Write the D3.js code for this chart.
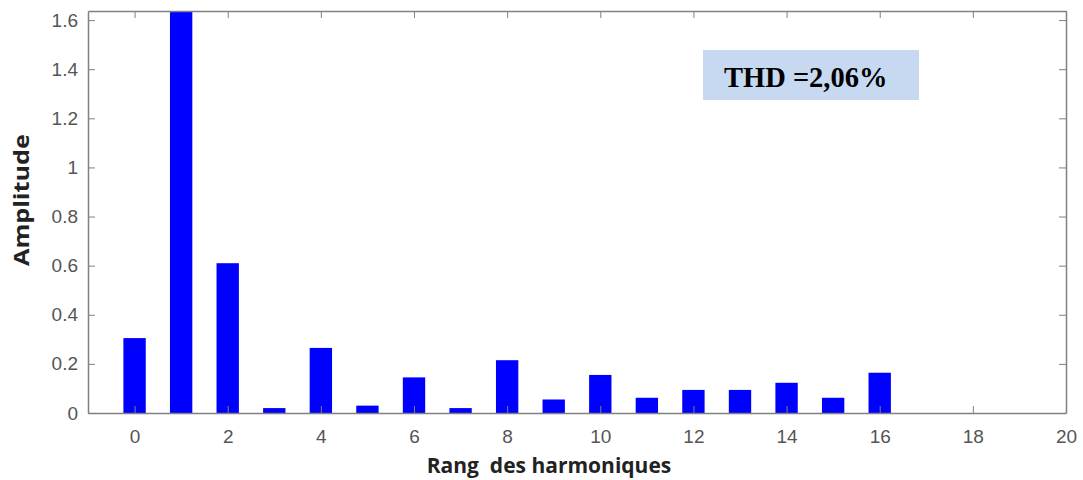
<!DOCTYPE html>
<html>
<head>
    <script src="https://d3js.org/d3.v7.min.js"></script>
    <style>
        body { margin: 0; background: #fff; }
        .tick text { font-family: Arial, "Liberation Sans", sans-serif; font-size: 19px; fill: #555; }
        .tick line { stroke: #808080; }
        .domain { stroke: #808080; }
        .axis-label { font-family: "Open Sans", sans-serif; font-weight: bold; font-size: 21px; fill: #222; white-space: pre; }
    </style>
</head>
<body>
<div id="chart"></div>
<script>
    // harmonic ranks and their amplitudes
    const harmonics = [0, 1, 2, 3, 4, 5, 6, 7, 8, 9, 10, 11, 12, 13, 14, 15, 16];
    const amplitudes = [0.305, 1.70, 0.61, 0.02, 0.265, 0.03, 0.145, 0.02, 0.215, 0.055, 0.155, 0.062, 0.094, 0.094, 0.123, 0.062, 0.164];
    const xTicks = [0, 2, 4, 6, 8, 10, 12, 14, 16, 18, 20];
    const yTicks = [0, 0.2, 0.4, 0.6, 0.8, 1, 1.2, 1.4, 1.6];
    const thdLabel = 'THD =2,06%';

    const width = 1083, height = 480;
    const margin = {top: 11, right: 17, bottom: 67, left: 88};
    const iw = width - margin.left - margin.right;
    const ih = height - margin.top - margin.bottom;

    const svg = d3.select('#chart').append('svg')
        .attr('width', width)
        .attr('height', height);

    const x = d3.scaleLinear().domain([-1, 20]).range([0, iw]);
    const y = d3.scaleLinear().domain([0, 1.637]).range([ih, 0]);
    const barW = x(0.48) - x(0);

    const g = svg.append('g').attr('transform', `translate(${margin.left},${margin.top})`);

    g.append('defs').append('clipPath').attr('id', 'clip')
        .append('rect').attr('width', iw).attr('height', ih);

    g.append('g').attr('clip-path', 'url(#clip)')
        .selectAll('rect')
        .data(harmonics)
        .join('rect')
        .attr('x', (d, i) => x(d) - barW / 2)
        .attr('y', (d, i) => y(amplitudes[i]))
        .attr('width', barW)
        .attr('height', (d, i) => ih - y(amplitudes[i]))
        .attr('fill', '#0000ff');

    // axes (ticks pointing inward, box on)
    const fmt = d => String(d);
    g.append('g').attr('transform', `translate(0,${ih})`)
        .call(d3.axisBottom(x).tickValues(xTicks).tickFormat(fmt).tickSizeInner(-7).tickSizeOuter(0).tickPadding(17));
    g.append('g')
        .call(d3.axisTop(x).tickValues(xTicks).tickFormat('').tickSizeInner(-7).tickSizeOuter(0));
    g.append('g')
        .call(d3.axisLeft(y).tickValues(yTicks).tickFormat(fmt).tickSizeInner(-7).tickSizeOuter(0).tickPadding(10));
    g.append('g').attr('transform', `translate(${iw},0)`)
        .call(d3.axisRight(y).tickValues(yTicks).tickFormat('').tickSizeInner(-7).tickSizeOuter(0));

    g.selectAll('.domain').attr('stroke-width', 1.5);

    // axis labels
    svg.append('text')
        .attr('class', 'axis-label')
        .attr('x', 549).attr('y', 473)
        .attr('text-anchor', 'middle')
        .text('Rang  des harmoniques');

    svg.append('text')
        .attr('class', 'axis-label')
        .attr('transform', 'translate(29,200) rotate(-90)')
        .attr('text-anchor', 'middle')
        .attr('textLength', 132)
        .attr('lengthAdjust', 'spacingAndGlyphs')
        .text('Amplitude');

    // THD annotation box
    svg.append('rect')
        .attr('x', 703).attr('y', 50)
        .attr('width', 216).attr('height', 50)
        .attr('fill', '#c6d9f1');
    svg.append('text')
        .attr('x', 724).attr('y', 87)
        .style('font-family', '"Liberation Serif", "Times New Roman", serif')
        .style('font-weight', 'bold')
        .style('font-size', '28.5px')
        .style('fill', '#000')
        .text(thdLabel);
</script>
</body>
</html>
